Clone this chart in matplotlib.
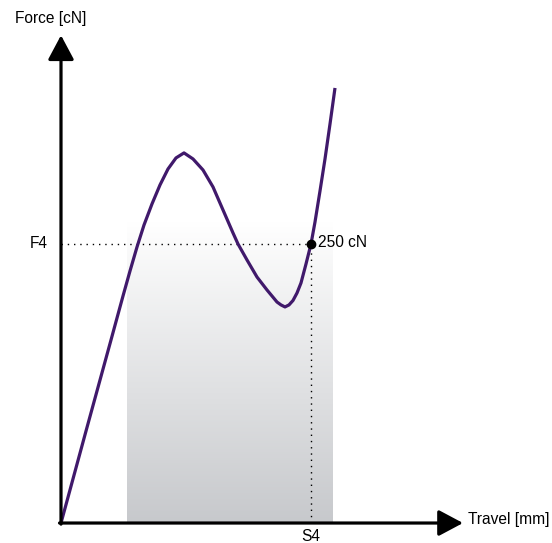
import matplotlib.pyplot as plt
import numpy as np

plt.rcParams['font.family'] = ['Liberation Sans', 'DejaVu Sans']

# curve (travel in mm, force in cN)
travel = [0.00, 0.50, 1.00, 1.24, 1.38, 1.52, 1.66, 1.82, 1.98, 2.14, 2.30,
          2.46, 2.64, 2.84, 3.04, 3.24, 3.44, 3.54, 3.72, 3.92, 4.12, 4.32,
          4.40, 4.48, 4.56, 4.64, 4.72, 4.80, 4.90, 5.00, 5.08, 5.18, 5.28,
          5.38, 5.48]
force = [0.0, 82.4, 164.0, 203.4, 225.8, 247.3, 267.0, 285.9, 302.9, 317.2,
         327.1, 331.6, 326.2, 316.3, 301.1, 280.5, 259.9, 250.0, 235.7,
         220.4, 208.8, 198.0, 195.4, 193.6, 195.4, 199.4, 206.1, 215.1,
         232.1, 250.0, 269.7, 297.5, 326.2, 357.5, 389.8]

S4 = 5.0
F4 = 250.0
shade_x = [1.32, 5.44]
shade_top = 270.0

C_CURVE = '#40196b'

fig = plt.figure(figsize=(5.52, 5.43), dpi=100)
ax = fig.add_axes([0, 0, 1, 1])
ax.set_xlim(-1.22, 9.82)
ax.set_ylim(-17.9, 468.6)
ax.axis('off')

# shaded area with vertical gradient
grad = np.linspace(0, 1, 256).reshape(-1, 1)
top = np.array([1.0, 1.0, 1.0])
bot = np.array([0.78, 0.787, 0.80])
img = top + (bot - top) * grad[:, :, None]
ax.imshow(img, extent=[shade_x[0], shade_x[1], 0, shade_top], origin='upper',
          aspect='auto', zorder=1, interpolation='bilinear')

# dotted guides
ax.plot([0, S4], [F4, F4], color='black', lw=1.0, ls=(0, (1, 3.5)), zorder=2)
ax.plot([S4, S4], [0, F4], color='black', lw=1.0, ls=(0, (1, 3.5)), zorder=2)

# curve
ax.plot(travel, force, color=C_CURVE, lw=2.3, solid_capstyle='butt',
        solid_joinstyle='round', zorder=3)
ax.plot(S4, F4, 'o', color='black', ms=6, zorder=4)

# axes with arrows
ax.annotate('', xy=(0, 437), xytext=(0, -1),
            arrowprops=dict(arrowstyle='-|>,head_length=1.5,head_width=0.8',
                            color='black', lw=2.3, shrinkA=0, shrinkB=0),
            zorder=5)
ax.annotate('', xy=(8.04, 0), xytext=(-0.03, 0),
            arrowprops=dict(arrowstyle='-|>,head_length=1.5,head_width=0.8',
                            color='black', lw=2.3, shrinkA=0, shrinkB=0),
            zorder=5)

fs = 11.2
ax.text(-0.92, 452, 'Force [cN]', fontsize=fs, ha='left', va='center')
ax.text(8.14, 3, 'Travel [mm]', fontsize=fs, ha='left', va='center')
ax.text(-0.62, F4, 'F4', fontsize=fs, ha='left', va='center')
ax.text(S4, -12.5, 'S4', fontsize=fs, ha='center', va='center')
ax.text(S4 + 0.14, F4 + 1, '250 cN', fontsize=fs, ha='left', va='center')

plt.savefig('out.png', dpi=100, facecolor='white')
